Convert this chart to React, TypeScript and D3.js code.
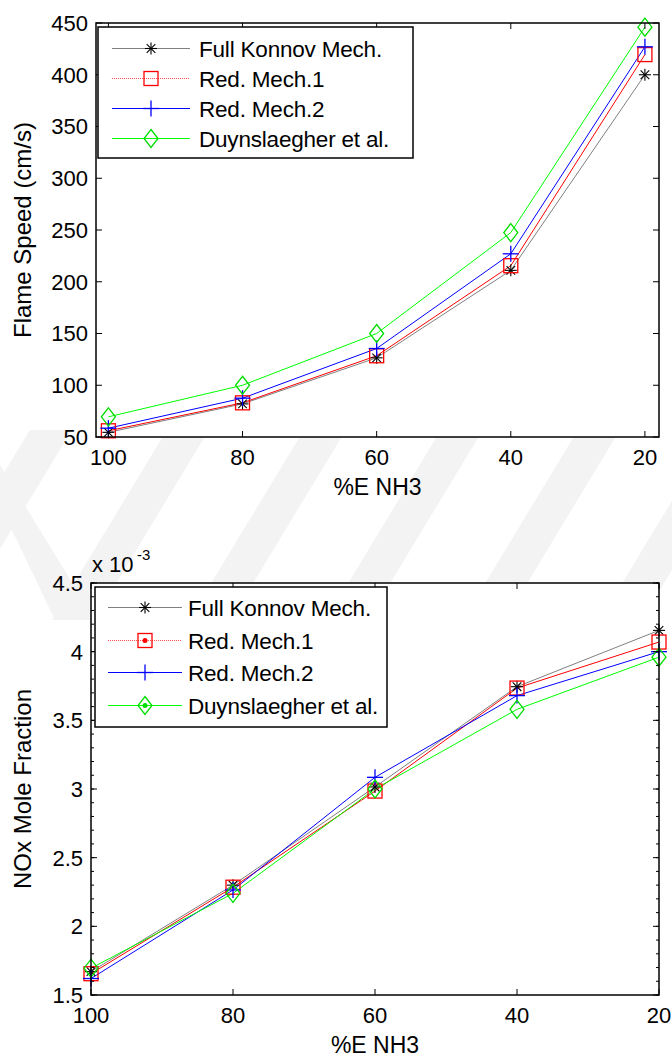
import * as d3 from "d3";

// %E NH3 on the x axis (reversed: 100 -> 20)
const energyNH3 = [100, 80, 60, 40, 20];
const xTickValues = [100, 80, 60, 40, 20];
const seriesNames = ["Full Konnov Mech.", "Red. Mech.1", "Red. Mech.2", "Duynslaegher et al."];

// flame speed, cm/s
const speedKonnov = [54.5, 82, 126.5, 211, 400];
const speedRed1 = [56, 83, 128.5, 215.5, 419.5];
const speedRed2 = [58.5, 87.5, 135.5, 227, 427];
const speedDuyn = [69.5, 100, 150, 247.5, 446];
const speedTicks = [50, 100, 150, 200, 250, 300, 350, 400, 450];

// NOx mole fraction, in units of 10^-3
const noxKonnov = [1.67, 2.3, 3.015, 3.745, 4.155];
const noxRed1 = [1.655, 2.285, 2.985, 3.735, 4.07];
const noxRed2 = [1.62, 2.265, 3.085, 3.68, 4.0];
const noxDuyn = [1.695, 2.24, 3.0, 3.58, 3.96];
const noxTicks = [1.5, 2, 2.5, 3, 3.5, 4, 4.5];

const FONT = "'Liberation Sans', Arial, Helvetica, sans-serif";

const styles = [
  { line: "#808080", legendLine: "#808080", marker: "star", color: "#000000", dash: undefined },
  { line: "#ff0000", legendLine: "#ff5050", marker: "square", color: "#ff0000", dash: "1 1" },
  { line: "#0000ff", legendLine: "#0000ff", marker: "plus", color: "#0000ff", dash: undefined },
  { line: "#00ff00", legendLine: "#00ff00", marker: "diamond", color: "#00dd00", dash: undefined },
];

function Marker({ kind, x, y, color, dot }: any) {
  if (kind === "star") {
    const r = 6, d = 4.3;
    return (
      <g stroke={color} strokeWidth={1.1}>
        <line x1={x - r} y1={y} x2={x + r} y2={y} />
        <line x1={x} y1={y - r} x2={x} y2={y + r} />
        <line x1={x - d} y1={y - d} x2={x + d} y2={y + d} />
        <line x1={x - d} y1={y + d} x2={x + d} y2={y - d} />
      </g>
    );
  }
  if (kind === "square") {
    return (
      <g>
        <rect x={x - 7} y={y - 7} width={14} height={14} fill="none" stroke={color} strokeWidth={1.3} />
        {dot && <circle cx={x} cy={y} r={2.5} fill={color} />}
      </g>
    );
  }
  if (kind === "plus") {
    return (
      <g stroke={color} strokeWidth={1.3}>
        <line x1={x - 8} y1={y} x2={x + 8} y2={y} />
        <line x1={x} y1={y - 8} x2={x} y2={y + 8} />
      </g>
    );
  }
  return (
    <g>
      <polygon
        points={`${x},${y - 9} ${x + 7},${y} ${x},${y + 9} ${x - 7},${y}`}
        fill="none"
        stroke={color}
        strokeWidth={1.3}
      />
      {dot && <circle cx={x} cy={y} r={2.5} fill={color} />}
    </g>
  );
}

function Chart({ frame, xDomain, yDomain, yTicks, minorStep, series, yLabel, legend, tickFmt }: any) {
  const x = d3.scaleLinear().domain(xDomain).range([frame.left, frame.right]);
  const y = d3.scaleLinear().domain(yDomain).range([frame.bottom, frame.top]);
  const line = d3.line<number>().x((_, i) => x(energyNH3[i])).y((v) => y(v));
  const minor = minorStep ? d3.range(yDomain[0], yDomain[1] + 1e-9, minorStep) : [];
  const w = frame.right - frame.left;
  const h = frame.bottom - frame.top;

  return (
    <g fontFamily={FONT}>
      <rect x={frame.left} y={frame.top} width={w} height={h} fill="#fff" />
      {series.map((vals: number[], si: number) => (
        <path key={si} d={line(vals) || ""} fill="none" stroke={styles[si].line} strokeWidth={1} />
      ))}
      {series.map((vals: number[], si: number) =>
        vals.map((v, i) => (
          <Marker key={`${si}-${i}`} kind={styles[si].marker} x={x(energyNH3[i])} y={y(v)} color={styles[si].color} />
        ))
      )}
      {/* ticks */}
      <g stroke="#000" strokeWidth={1}>
        {xTickValues.map((t) => (
          <g key={t}>
            <line x1={x(t)} x2={x(t)} y1={frame.bottom} y2={frame.bottom - 6} />
            <line x1={x(t)} x2={x(t)} y1={frame.top} y2={frame.top + 6} />
          </g>
        ))}
        {yTicks.map((t: number) => (
          <g key={t}>
            <line x1={frame.left} x2={frame.left + 6} y1={y(t)} y2={y(t)} />
            <line x1={frame.right} x2={frame.right - 6} y1={y(t)} y2={y(t)} />
          </g>
        ))}
        {minor.map((t: number) => (
          <g key={`m${t}`}>
            <line x1={frame.left} x2={frame.left + 3} y1={y(t)} y2={y(t)} />
            <line x1={frame.right} x2={frame.right - 3} y1={y(t)} y2={y(t)} />
          </g>
        ))}
      </g>
      <rect x={frame.left} y={frame.top} width={w} height={h} fill="none" stroke="#000" strokeWidth={1.5} />
      {/* tick labels */}
      {yTicks.map((t: number) => (
        <text key={t} x={frame.left - 8} y={y(t)} dy="0.36em" textAnchor="end" fontSize={22} fill="#000">
          {tickFmt(t)}
        </text>
      ))}
      {xTickValues.map((t) => (
        <text key={t} x={x(t)} y={frame.bottom + 28} textAnchor="middle" fontSize={22} fill="#000">
          {t}
        </text>
      ))}
      <text x={(frame.left + frame.right) / 2} y={frame.bottom + 58} textAnchor="middle" fontSize={23}>
        %E NH3
      </text>
      <text
        transform={`translate(31,${(frame.top + frame.bottom) / 2}) rotate(-90)`}
        textAnchor="middle"
        fontSize={24}
      >
        {yLabel}
      </text>
      {/* legend */}
      <rect
        x={legend.left}
        y={legend.top}
        width={legend.right - legend.left}
        height={legend.bottom - legend.top}
        fill="#fff"
        stroke="#000"
        strokeWidth={1.5}
      />
      {seriesNames.map((name, si) => {
        const ly = Math.round(legend.row0 + si * legend.rowGap) + 0.5;
        return (
          <g key={name}>
            <line
              x1={legend.lineX0}
              x2={legend.lineX1}
              y1={ly}
              y2={ly}
              stroke={styles[si].legendLine}
              strokeWidth={1}
              strokeDasharray={styles[si].dash}
            />
            <Marker
              kind={styles[si].marker}
              x={legend.markX}
              y={ly}
              color={styles[si].color}
              dot={legend.dots && (si === 1 || si === 3)}
            />
            <text x={legend.textX} y={ly} dy="0.36em" fontSize={22.5} letterSpacing={-0.2}>
              {name}
            </text>
          </g>
        );
      })}
    </g>
  );
}

function Watermark() {
  // faint diagonal bands of the page watermark, visible between the two plots
  const bands = d3.range(-2, 5).map((k) => {
    const x0 = 201 + 137 * k;
    const s = 0.605;
    const yb = 620, yt = 430;
    return `${x0 - (yb - 600) * s},${yb} ${x0 + 42 - (yb - 600) * s},${yb} ${x0 + 42 + (600 - yt) * s},${yt} ${x0 + (600 - yt) * s},${yt}`;
  });
  return (
    <g fill="#f3f3f3">
      {bands.map((p, i) => (
        <polygon key={i} points={p} />
      ))}
      <polygon points={`0,465 0,505 55,620 95,620`} />
    </g>
  );
}

export default function App() {
  const topFrame = { left: 96, right: 659, top: 23, bottom: 437 };
  const botFrame = { left: 91, right: 659, top: 583, bottom: 995 };
  return (
    <svg
      width={672}
      height={1057}
      style={{ position: "absolute", left: 0, top: 0, display: "block", background: "#fff" }}
    >
      <rect width={672} height={1057} fill="#fff" />
      <Watermark />
      <Chart
        frame={topFrame}
        xDomain={[101.85, 17.9]}
        yDomain={[50, 450]}
        yTicks={speedTicks}
        series={[speedKonnov, speedRed1, speedRed2, speedDuyn]}
        yLabel="Flame Speed (cm/s)"
        tickFmt={(t: number) => String(t)}
        legend={{
          left: 98, right: 413, top: 27, bottom: 158,
          row0: 47.5, rowGap: 30.2, lineX0: 112, lineX1: 190, markX: 151, textX: 199, dots: false,
        }}
      />
      <Chart
        frame={botFrame}
        xDomain={[100, 20]}
        yDomain={[1.5, 4.5]}
        yTicks={noxTicks}
        minorStep={0.1}
        series={[noxKonnov, noxRed1, noxRed2, noxDuyn]}
        yLabel="NOx Mole Fraction"
        tickFmt={(t: number) => String(t)}
        legend={{
          left: 95, right: 387, top: 587, bottom: 727,
          row0: 607, rowGap: 32.5, lineX0: 108, lineX1: 182, markX: 145, textX: 188, dots: true,
        }}
      />
      <text x={92} y={572} fontFamily={FONT} fontSize={22}>
        x 10
      </text>
      <text x={137} y={560} fontFamily={FONT} fontSize={15}>
        -3
      </text>
    </svg>
  );
}
